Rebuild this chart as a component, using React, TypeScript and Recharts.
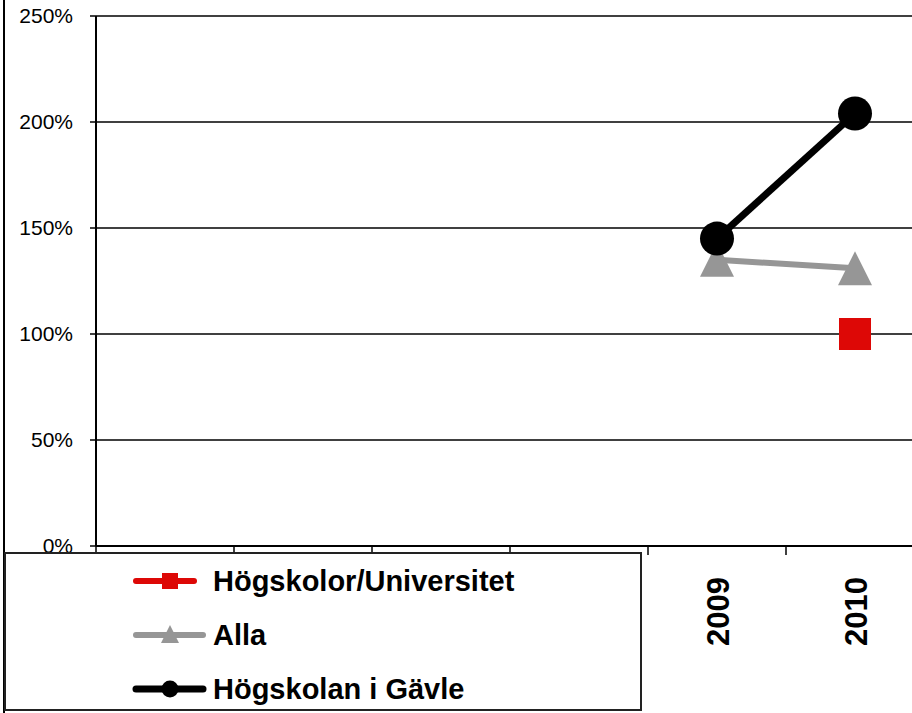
import React from "react";
import { CartesianGrid, Line, LineChart, XAxis, YAxis } from "recharts";

// categories on the x axis (first four are covered by the legend box)
const years = ["2005", "2006", "2007", "2008", "2009", "2010"];
const tickLabels = ["", "", "", "", "2009", "2010"];

// values in percent
const hogskolor: (number | null)[] = [null, null, null, null, null, 100];
const alla: (number | null)[] = [null, null, null, null, 135, 131];
const gavle: (number | null)[] = [null, null, null, null, 145, 204];

const yTicks = [0, 50, 100, 150, 200, 250];

const series = [
  { key: "hogskolor", name: "Högskolor/Universitet", color: "#dd0806", width: 6, marker: "square" },
  { key: "alla", name: "Alla", color: "#969696", width: 6, marker: "triangle" },
  { key: "gavle", name: "Högskolan i Gävle", color: "#000000", width: 7, marker: "circle" },
];

const data = years.map((year, i) => ({
  year,
  hogskolor: hogskolor[i],
  alla: alla[i],
  gavle: gavle[i],
}));

const FONT = "'Liberation Sans', Arial, sans-serif";

function YearTick(props: any) {
  const { x, y, index, width, visibleTicksCount } = props;
  // tick marks sit on the category boundaries, labels in the middle
  const half = width && visibleTicksCount ? width / visibleTicksCount / 2 : 0;
  const label = tickLabels[index] ?? "";
  return (
    <g>
      <line x1={x - half} x2={x - half} y1={y} y2={y + 9} stroke="#000" strokeWidth={1.5} />
      {label ? (
        <text
          transform={`translate(${x + 1},${y + 31}) rotate(-90)`}
          textAnchor="end"
          dy="0.36em"
          fontSize={31}
          fontWeight="bold"
          fontFamily={FONT}
          fill="#000"
        >
          {label}
        </text>
      ) : null}
    </g>
  );
}

function SquareDot(props: any) {
  const { cx, cy, fill } = props;
  if (cx == null || cy == null) return <g />;
  return <rect x={cx - 16} y={cy - 16} width={32} height={32} fill={fill} />;
}

function TriangleDot(props: any) {
  const { cx, cy, fill } = props;
  if (cx == null || cy == null) return <g />;
  return <polygon points={`${cx},${cy - 17} ${cx + 17},${cy + 17} ${cx - 17},${cy + 17}`} fill={fill} />;
}

function LegendIcon({ color, width, marker, long }: any) {
  const x2 = long ? 73 : 64;
  return (
    <svg width={83} height={54} style={{ display: "block" }}>
      <line x1={6} x2={x2} y1={27} y2={27} stroke={color} strokeWidth={width} strokeLinecap="round" />
      {marker === "square" && <rect x={32} y={19} width={16} height={16} fill={color} />}
      {marker === "triangle" && <polygon points="40,17 49,35 31,35" fill={color} />}
      {marker === "circle" && <circle cx={40} cy={27} r={8.5} fill={color} />}
    </svg>
  );
}

export default function App() {
  return (
    <div
      style={{
        position: "absolute",
        left: 0,
        top: 0,
        width: 912,
        height: 713,
        overflow: "hidden",
        background: "#fff",
        fontFamily: FONT,
      }}
    >
      <div style={{ position: "absolute", left: 3, top: 0, width: 2, height: 713, background: "#000" }} />

      <LineChart width={930} height={713} data={data} margin={{ top: 16, right: 6, bottom: 0, left: 0 }}>
        <CartesianGrid vertical={false} stroke="#000" strokeWidth={1.5} />
        <XAxis
          dataKey="year"
          scale="band"
          height={167}
          interval={0}
          axisLine={{ stroke: "#000", strokeWidth: 2 }}
          tickLine={false}
          tickSize={0}
          tickMargin={0}
          tick={<YearTick />}
        />
        <YAxis
          width={96}
          domain={[0, 250]}
          ticks={yTicks}
          tickFormatter={(v) => `${v}%`}
          axisLine={{ stroke: "#000", strokeWidth: 2 }}
          tickLine={{ stroke: "#000", strokeWidth: 1.5 }}
          tickSize={6}
          tickMargin={17}
          tick={{ fill: "#000", fontSize: 21, fontFamily: FONT }}
        />
        <Line
          dataKey="hogskolor"
          name="Högskolor/Universitet"
          stroke="#dd0806"
          strokeWidth={6}
          fill="#dd0806"
          dot={<SquareDot />}
          activeDot={false}
          isAnimationActive={false}
        />
        <Line
          dataKey="alla"
          name="Alla"
          stroke="#969696"
          strokeWidth={6}
          fill="#969696"
          dot={<TriangleDot />}
          activeDot={false}
          isAnimationActive={false}
        />
        <Line
          dataKey="gavle"
          name="Högskolan i Gävle"
          stroke="#000"
          strokeWidth={7}
          dot={{ r: 17, fill: "#000", stroke: "none" }}
          activeDot={false}
          isAnimationActive={false}
        />
      </LineChart>

      <div
        style={{
          position: "absolute",
          left: 4,
          top: 552,
          width: 638,
          height: 159,
          border: "2px solid #222",
          boxSizing: "border-box",
          background: "#fff",
        }}
      >
        {series.map((s) => (
          <div key={s.key} style={{ display: "flex", alignItems: "center", height: 54, marginLeft: 124 }}>
            <LegendIcon color={s.color} width={s.width} marker={s.marker} long={s.marker !== "square"} />
            <span style={{ fontSize: 29, fontWeight: "bold", color: "#000", lineHeight: "54px" }}>{s.name}</span>
          </div>
        ))}
      </div>
    </div>
  );
}
